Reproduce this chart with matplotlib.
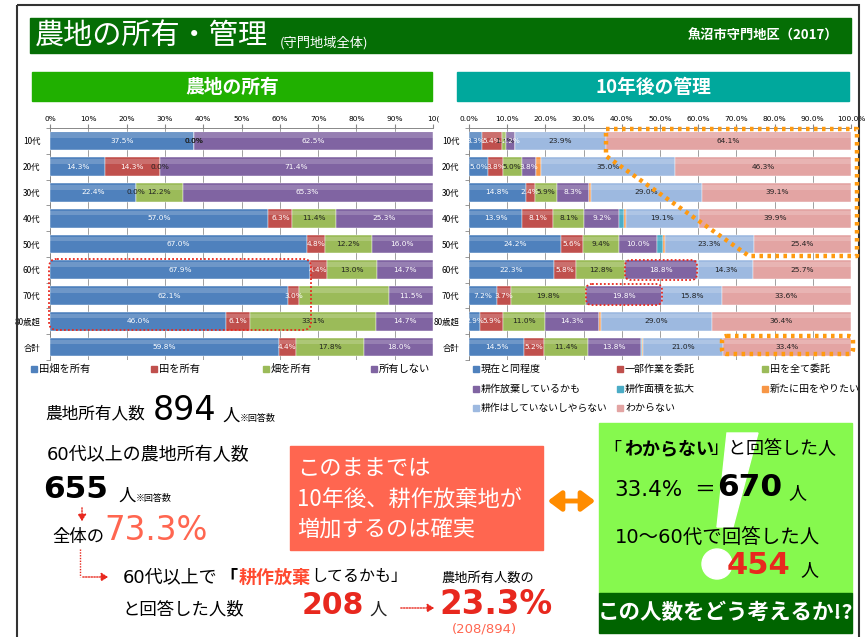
import numpy as np
import matplotlib.pyplot as plt
from matplotlib.patches import Rectangle, FancyBboxPatch, Polygon, Circle, FancyArrowPatch

plt.rcParams['font.family'] = ['Noto Sans CJK JP', 'DejaVu Sans']
NUM = ['DejaVu Sans', 'Noto Sans CJK JP']  # wide digits, CJK fallback

# ---- data ----
ages = ['10代', '20代', '30代', '40代', '50代', '60代', '70代', '80歳超', '合計']

own_names = ['田畑を所有', '田を所有', '畑を所有', '所有しない']
own_both = [37.5, 14.3, 22.4, 57.0, 67.0, 67.9, 62.1, 46.0, 59.8]
own_rice = [0.0, 14.3, 0.0, 6.3, 4.8, 4.4, 3.0, 6.1, 4.4]
own_field = [0.0, 0.0, 12.2, 11.4, 12.2, 13.0, 23.4, 33.1, 17.8]
own_none = [62.5, 71.4, 65.3, 25.3, 16.0, 14.7, 11.5, 14.7, 18.0]

mng_names = ['現在と同程度', '一部作業を委託', '田を全て委託', '耕作放棄しているかも',
             '耕作面積を拡大', '新たに田をやりたい', '耕作はしていないしやらない', 'わからない']
mng_same = [3.3, 5.0, 14.8, 13.9, 24.2, 22.3, 7.2, 2.9, 14.5]
mng_part = [5.4, 3.8, 2.4, 8.1, 5.6, 5.8, 3.7, 5.9, 5.2]
mng_all = [1.1, 5.0, 5.9, 8.1, 9.4, 12.8, 19.8, 11.0, 11.4]
mng_abandon = [2.2, 3.8, 8.3, 9.2, 10.0, 18.8, 19.8, 14.3, 13.8]
mng_expand = [0.0, 0.0, 0.0, 1.2, 1.7, 0.3, 0.0, 0.0, 0.3]
mng_new = [0.0, 1.2, 0.6, 0.6, 0.4, 0.0, 0.0, 0.5, 0.4]
mng_not = [23.9, 35.0, 29.0, 19.1, 23.3, 14.3, 15.8, 29.0, 21.0]
mng_unknown = [64.1, 46.3, 39.1, 39.9, 25.4, 25.7, 33.6, 36.4, 33.4]

own_colors = ['#4F81BD', '#C0504D', '#9BBB59', '#8064A2']
mng_colors = ['#4F81BD', '#C0504D', '#9BBB59', '#8064A2', '#4BACC6', '#F79646', '#9DB9E0', '#E3A4A3']

W, H = 865, 637
fig = plt.figure(figsize=(W / 100, H / 100), dpi=100)


def px_axes(x0, y0, x1, y1):
    return fig.add_axes([x0 / W, 1 - y1 / H, (x1 - x0) / W, (y1 - y0) / H])


def stacked(ax, series, colors, label_colors, skip, tickfmt):
    y = np.arange(len(ages))
    left = np.zeros(len(ages))
    for k, vals in enumerate(series):
        vals = np.array(vals)
        ax.barh(y, vals, left=left, height=0.72, color=colors[k], edgecolor='white', linewidth=0.3, zorder=3)
        # highlight strip for the excel look
        ax.barh(y - 0.2, vals, left=left, height=0.18, color='white', alpha=0.18, linewidth=0, zorder=4)
        if label_colors[k] is not None:
            for i, v in enumerate(vals):
                if (k, i) in skip:
                    continue
                c = '#222222' if v == 0 else label_colors[k]
                ax.text(left[i] + v / 2, i, '%.1f%%' % v, ha='center', va='center',
                        fontsize=5.3, color=c, zorder=5, family='DejaVu Sans')
        left += vals
    ax.set_xlim(0, 100)
    ax.set_ylim(len(ages) - 0.5, -0.5)
    ax.xaxis.tick_top()
    ax.set_xticks(np.arange(0, 101, 10))
    ax.set_xticklabels([tickfmt % t for t in range(0, 101, 10)], fontsize=5.3, family='DejaVu Sans')
    ax.tick_params(axis='x', length=3, color='#888888', pad=1)
    ax.set_yticks(y)
    ax.set_yticklabels(ages, fontsize=6)
    ax.set_yticks(np.arange(-0.5, len(ages), 1), minor=True)
    ax.tick_params(axis='y', which='major', length=0, pad=7)
    ax.tick_params(axis='y', which='minor', length=3, color='#888888')
    ax.grid(axis='x', color='#A0A0A0', linewidth=0.7, zorder=0)
    for s in ['right', 'bottom']:
        ax.spines[s].set_visible(False)
    for s in ['left', 'top']:
        ax.spines[s].set_color('#888888')
        ax.spines[s].set_linewidth(0.7)


ax1 = px_axes(50, 128, 433, 360)
stacked(ax1, [own_both, own_rice, own_field, own_none], own_colors,
        ['white', 'white', '#222222', 'white'], {(2, 6)}, '%d%%')
ax1.set_xticklabels(['%d%%' % t for t in range(0, 91, 10)] + ['10('], fontsize=5.3, family='DejaVu Sans')

ax2 = px_axes(469, 128, 851, 360)
stacked(ax2, [mng_same, mng_part, mng_all, mng_abandon, mng_expand, mng_new, mng_not, mng_unknown],
        mng_colors, ['white', 'white', '#222222', 'white', None, None, '#222222', '#222222'], set(), '%.1f%%')

# ---- overlay for decorations ----
ov = fig.add_axes([0, 0, 1, 1], zorder=10)
ov.set_xlim(0, W)
ov.set_ylim(H, 0)
ov.axis('off')
ov.patch.set_alpha(0)

ov.add_patch(Rectangle((17, 5), 842, 640, fill=False, edgecolor='#333333', linewidth=1.5))
ov.add_patch(Rectangle((30, 18), 821, 35, color='#056E05'))
ov.text(35, 37, '農地の所有・管理', color='white', fontsize=21, va='center', ha='left')
ov.text(280, 43, '(守門地域全体)', color='white', fontsize=9.5, va='center', ha='left')
ov.text(838, 36, '魚沼市守門地区（2017）', color='white', fontsize=9.5, fontweight='bold', va='center', ha='right')

ov.add_patch(Rectangle((32, 72), 400, 29, color='#20B000'))
ov.text(232, 87, '農地の所有', color='white', fontsize=13.5, fontweight='bold', va='center', ha='center')
ov.add_patch(Rectangle((457, 72), 392, 29, color='#00A89C'))
ov.text(653, 87, '10年後の管理', color='white', fontsize=13.5, fontweight='bold', va='center', ha='center')

# legends
for name, col, x in zip(own_names, own_colors, [31, 151, 263, 371]):
    ov.add_patch(Rectangle((x, 366), 6, 6, color=col))
    ov.text(x + 8, 369, name, fontsize=7.4, va='center', ha='left')
leg_pos = [(473, 369), (617, 369), (762, 369), (473, 389), (617, 389), (762, 389), (473, 408), (617, 408)]
for name, col, (x, y) in zip(mng_names, mng_colors, leg_pos):
    ov.add_patch(Rectangle((x, y - 3), 6, 6, color=col))
    ov.text(x + 8, y, name, fontsize=7.2 if len(name) < 12 else 7.0, va='center', ha='left')

# annotations on charts
ov.add_patch(FancyBboxPatch((49, 259), 262, 71, boxstyle='round,pad=0,rounding_size=8',
                            fill=False, edgecolor='#E8281E', linestyle=(0, (1, 1.2)), linewidth=1.3))
ov.add_patch(FancyBboxPatch((625, 260), 72, 20, boxstyle='round,pad=0,rounding_size=6',
                            fill=False, edgecolor='#E8281E', linestyle=(0, (1, 1.2)), linewidth=1.3))
ov.add_patch(FancyBboxPatch((586, 284), 76, 21, boxstyle='round,pad=0,rounding_size=6',
                            fill=False, edgecolor='#E8281E', linestyle=(0, (1, 1.2)), linewidth=1.3))
ov.plot([606, 857, 857, 749, 606, 606], [129, 129, 256, 256, 156, 129],
        color='#FF9A10', linewidth=3.2, linestyle=(0, (0.8, 1.0)), solid_capstyle='butt')
ov.add_patch(FancyBboxPatch((722, 336), 131, 18, boxstyle='round,pad=0,rounding_size=5',
                            fill=False, edgecolor='#FF9A10', linestyle=(0, (0.8, 1.0)), linewidth=3.2))

# bottom-left texts
ov.text(45, 414, '農地所有人数', fontsize=12, va='center')
ov.text(153, 410, '894', fontsize=24, va='center', family=NUM)
ov.text(222, 416, '人', fontsize=12.5, va='center')
ov.text(240, 419, '※回答数', fontsize=6.5, va='center')
ov.text(47, 455, '60代以上の農地所有人数', fontsize=13, va='center', family=NUM)
ov.text(43, 490, '655', fontsize=22.5, fontweight='bold', va='center', family=NUM)
ov.text(118, 496, '人', fontsize=12.5, va='center')
ov.text(136, 499, '※回答数', fontsize=6.5, va='center')
ov.add_patch(FancyArrowPatch((82, 505), (82, 524), arrowstyle='-|>,head_length=4,head_width=2.5',
                             color='#E8281E', linestyle=(0, (1, 1)), linewidth=1))
ov.text(52, 537, '全体の', fontsize=12.5, va='center')
ov.text(104, 531, '73.3%', fontsize=23.5, color='#FF6650', va='center', family=NUM)
ov.plot([80, 80], [549, 577], color='#E8281E', linestyle=(0, (1, 1)), linewidth=1)
ov.add_patch(FancyArrowPatch((80, 577), (111, 577), arrowstyle='-|>,head_length=4,head_width=2.5',
                             color='#E8281E', linestyle=(0, (1, 1)), linewidth=1))
ov.text(123, 577, '60代以上で', fontsize=13, va='center', family=NUM)
ov.text(219, 577, '「', fontsize=13, va='center', fontweight='bold')
ov.text(239, 577, '耕作放棄', fontsize=13, va='center', color='#FF4A30', fontweight='bold')
ov.text(311, 577, 'してるかも」', fontsize=11.5, va='center')
ov.text(123, 609, 'と回答した人数', fontsize=12.5, va='center')
ov.text(302, 605, '208', fontsize=21.5, color='#E8281E', fontweight='bold', va='center', family=NUM)
ov.text(369, 610, '人', fontsize=12.5, va='center', color='#222222')
ov.add_patch(FancyArrowPatch((398, 608), (437, 608), arrowstyle='-|>,head_length=4,head_width=2.5',
                             color='#E8281E', linestyle=(0, (1, 1)), linewidth=1))
ov.text(441, 578, '農地所有人数の', fontsize=9.5, va='center')
ov.text(439, 605, '23.3%', fontsize=23.5, color='#E8281E', fontweight='bold', va='center', family=NUM)
ov.text(452, 629, '(208/894)', fontsize=9.5, color='#FF6650', va='center', family=NUM)

# salmon box
ov.add_patch(Rectangle((290, 446), 253, 104, color='#FF6650'))
ov.text(297, 468, 'このままでは', fontsize=16, color='white', va='center')
ov.text(297, 499, '10年後、耕作放棄地が', fontsize=16, color='white', va='center')
ov.text(297, 530, '増加するのは確実', fontsize=16, color='white', va='center')
ov.add_patch(FancyArrowPatch((545, 501), (598, 501), arrowstyle='<|-|>,head_length=8,head_width=6',
                             color='#FF8C00', linewidth=3.5, mutation_scale=1))

# green box
ov.add_patch(Rectangle((599, 423), 253, 170, color='#86F94E'))
ov.add_patch(Polygon([(727, 433), (758, 433), (733, 527), (717, 527)], closed=True, color='white'))
ov.add_patch(Circle((717, 564), 15, color='white'))
ov.add_patch(Rectangle((599, 593), 253, 40, color='#006400'))
ov.text(603, 449, '「', fontsize=13, va='center')
ov.text(624, 449, 'わからない', fontsize=13, fontweight='bold', va='center')
ov.text(710, 449, '」と回答した人', fontsize=13, va='center')
ov.text(614, 490, '33.4%', fontsize=15.5, va='center', family=NUM)
ov.text(694, 490, '＝', fontsize=15, va='center')
ov.text(717, 487, '670', fontsize=22.5, fontweight='bold', va='center', family=NUM)
ov.text(788, 493, '人', fontsize=13, va='center')
ov.text(615, 537, '10〜60代で回答した人', fontsize=14, va='center', family=NUM)
ov.text(727, 566, '454', fontsize=22, fontweight='bold', color='#E8281E', va='center', family=NUM)
ov.text(800, 570, '人', fontsize=13, va='center')
ov.text(725, 612, 'この人数をどう考えるか!?', fontsize=15.5, fontweight='bold', color='white',
        va='center', ha='center')

fig.savefig('out.png', dpi=100)
